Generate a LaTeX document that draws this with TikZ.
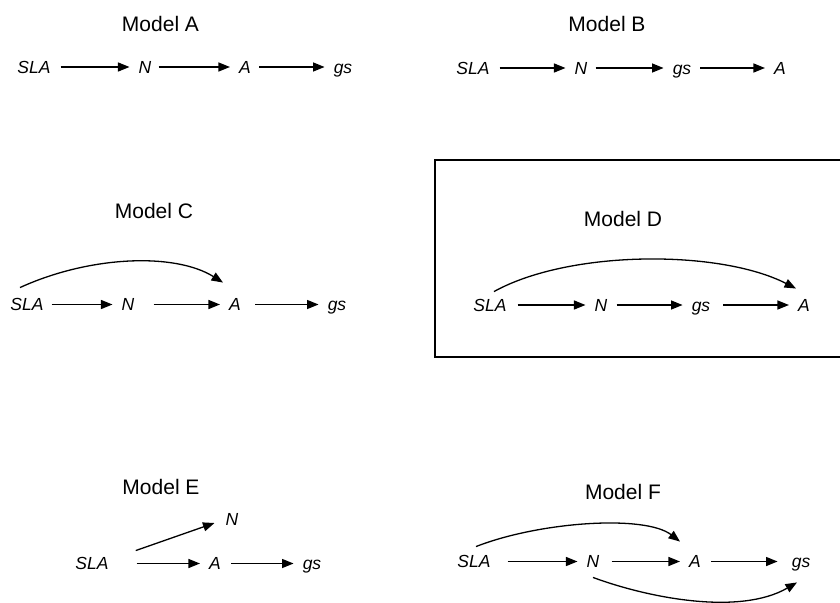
\documentclass[tikz,border=0pt]{standalone}
\usepackage{fontspec}
\setmainfont{Liberation Sans}
\usetikzlibrary{arrows.meta,calc}
\tikzset{>={Triangle[length=11.5pt,width=9pt]},title/.style={font=\fontsize{21}{25}\selectfont,inner sep=0pt},var/.style={font=\fontsize{17.5}{21}\selectfont\itshape,text height=12.5pt,text depth=0pt,inner sep=3pt},arr/.style={->,line width=1.3pt,shorten <=7pt,shorten >=6pt},curvearr/.style={->,line width=1.3pt},frame/.style={draw,line width=1.5pt}}

\begin{document}
\begin{tikzpicture}[x=1pt,y=-1pt]
\useasboundingbox (0,0) rectangle (840,602);
% Model A
\node[title] (tA) at (160.5,24) {Model A};
\node[var] (slaA) at (34,67) {SLA};
\node[var] (nA) at (145,67) {N};
\node[var] (aA) at (245,67) {A};
\node[var] (gsA) at (343,67) {gs};
\draw[arr] (slaA) -- (nA);
\draw[arr,shorten <=4pt] (nA) -- (aA);
\draw[arr,shorten <=5pt] (aA) -- (gsA);
% Model B
\node[title] (tB) at (607,24) {Model B};
\node[var] (slaB) at (473,68) {SLA};
\node[var] (nB) at (581,68) {N};
\node[var] (gsB) at (682,68) {gs};
\node[var] (aB) at (780,68) {A};
\draw[arr] (slaB) -- (nB);
\draw[arr,shorten <=5pt] (nB) -- (gsB);
\draw[arr,shorten <=6pt] (gsB) -- (aB);
% Model C
\node[title] (tC) at (154,211) {Model C};
\node[var] (slaC) at (27,304.5) {SLA};
\node[var] (nC) at (128,304.5) {N};
\node[var] (aC) at (235,304.5) {A};
\node[var] (gsC) at (337,304.5) {gs};
\draw[arr,shorten <=5pt] (slaC) -- (nC);
\draw[arr,shorten <=16pt] (nC) -- (aC);
\draw[arr,shorten <=11pt] (aC) -- (gsC);
\draw[curvearr] ($(slaC.north)+(-7,-7.5)$) .. controls +(70,-32) and +(-48,-30) .. ($(aC.north)+(-12,-12.5)$);
% Model D
\draw[frame] (435,160) rectangle (845,357);
\node[title] (tD) at (623,218.5) {Model D};
\node[var] (slaD) at (490,305) {SLA};
\node[var] (nD) at (601,305) {N};
\node[var] (gsD) at (701,305) {gs};
\node[var] (aD) at (804,305) {A};
\draw[arr,shorten <=8pt] (slaD) -- (nD);
\draw[arr,shorten <=6pt] (nD) -- (gsD);
\draw[arr,shorten <=10pt] (gsD) -- (aD);
\draw[curvearr] ($(slaD.north)+(4,-4)$) .. controls +(76,-42) and +(-76,-39) .. ($(aD.north)+(-8,-7)$);
% Model E
\node[title] (tE) at (161,486.5) {Model E};
\node[var] (nE) at (232,519.5) {N};
\node[var] (slaE) at (92,563.5) {SLA};
\node[var] (aE) at (215,563.5) {A};
\node[var] (gsE) at (312,563.5) {gs};
\draw[curvearr] ($(slaE.north east)+(24,-3.5)$) -- ($(nE.west)+(-8,3.5)$);
\draw[arr,shorten <=25pt] (slaE) -- (aE);
\draw[arr,shorten <=7pt] (aE) -- (gsE);
% Model F
\node[title] (tF) at (623,491.5) {Model F};
\node[var] (slaF) at (474,561.5) {SLA};
\node[var] (nF) at (593,561.5) {N};
\node[var] (aF) at (695,561.5) {A};
\node[var] (gsF) at (801,561.5) {gs};
\draw[arr,shorten <=14pt] (slaF) -- (nF);
\draw[arr,shorten <=9pt] (nF) -- (aF);
\draw[arr,shorten <=7pt,shorten >=11pt] (aF) -- (gsF);
\draw[curvearr] ($(slaF.north)+(2,-5.5)$) .. controls +(64,-25) and +(-35,-27) .. ($(aF.north)+(-15,-10.5)$);
\draw[curvearr] ($(nF.south)+(0,6.5)$) .. controls +(57,21) and +(-57,33) .. ($(gsF.south)+(-4,11.5)$);
\end{tikzpicture}
\end{document}
